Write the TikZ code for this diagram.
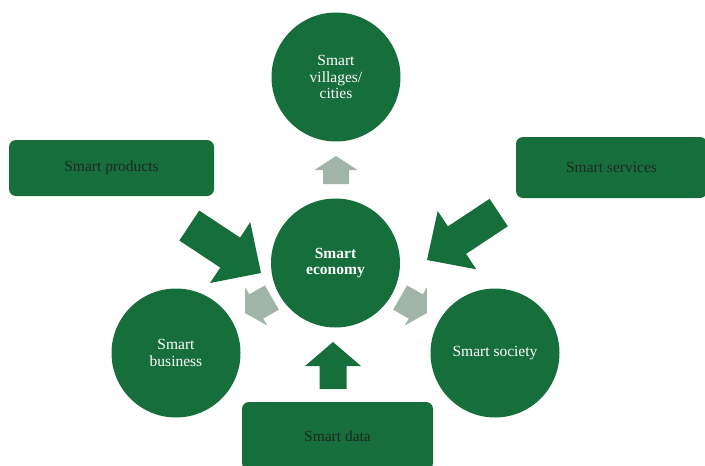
\documentclass[tikz,border=0pt]{standalone}
\usepackage{fontspec}
\setmainfont{Liberation Serif}
\definecolor{sgreen}{HTML}{166F3B}
\definecolor{sgray}{HTML}{A0B5A8}
\definecolor{sdark}{HTML}{1E2A22}
\newcommand\BlkArrow[7]{%
  \fill[#7, shift={#1}, rotate=#2] (0,0) -- (-#4,#5/2) -- (-#4,#6/2) -- (-#3,#6/2)
    -- (-#3,-#6/2) -- (-#4,-#6/2) -- (-#4,-#5/2) -- cycle;}
\begin{document}
\begin{tikzpicture}[x=1pt,y=-1pt,
  circ/.style={circle, fill=sgreen, draw=none, minimum size=129pt, inner sep=0pt,
    text=white, align=center, font=\fontsize{15.5}{16.8}\selectfont},
  box/.style={rectangle, rounded corners=7pt, fill=sgreen, draw=none, inner sep=0pt,
    text=sdark, align=center, font=\fontsize{15.5}{17}\selectfont}]
\useasboundingbox (0,0) rectangle (705,466);
\clip (0,0) rectangle (705,466);
% circles
\node[circ] (eco) at (335.5,263) {\textbf{Smart}\\\textbf{economy}};
\node[circ] (vil) at (336,77) {Smart\\villages/\\cities};
\node[circ] (bus) at (176,353) {Smart\\business};
\node[circ] (soc) at (495,353) {Smart society};
% boxes
\node[box, minimum width=205pt, minimum height=56pt] (prod) at (111.5,168) {Smart products};
\node[box, minimum width=191pt, minimum height=61pt] (serv) at (611.5,167.5) {Smart services};
\node[box, minimum width=191pt, minimum height=68pt] (data) at (337.5,436) {Smart data};
% arrow tips
\coordinate (tvil) at (336,156);
\coordinate (tbus) at (245,313);
\coordinate (tsoc) at (427,313);
\coordinate (tprod) at (261,273);
\coordinate (tserv) at (427,260);
\coordinate (tdata) at (333,342);
% arrows
\BlkArrow{(tvil)}{90}{28}{14}{43}{26}{sgray}
\BlkArrow{(tbus)}{210}{31}{13}{44}{28}{sgray}
\BlkArrow{(tsoc)}{-30}{31}{13}{44}{28}{sgray}
\BlkArrow{(tprod)}{-33.5}{86}{37}{73}{36}{sgreen}
\BlkArrow{(tserv)}{213.5}{86}{36}{70}{33}{sgreen}
\BlkArrow{(tdata)}{90}{47}{24}{56}{27}{sgreen}
\end{tikzpicture}
\end{document}
